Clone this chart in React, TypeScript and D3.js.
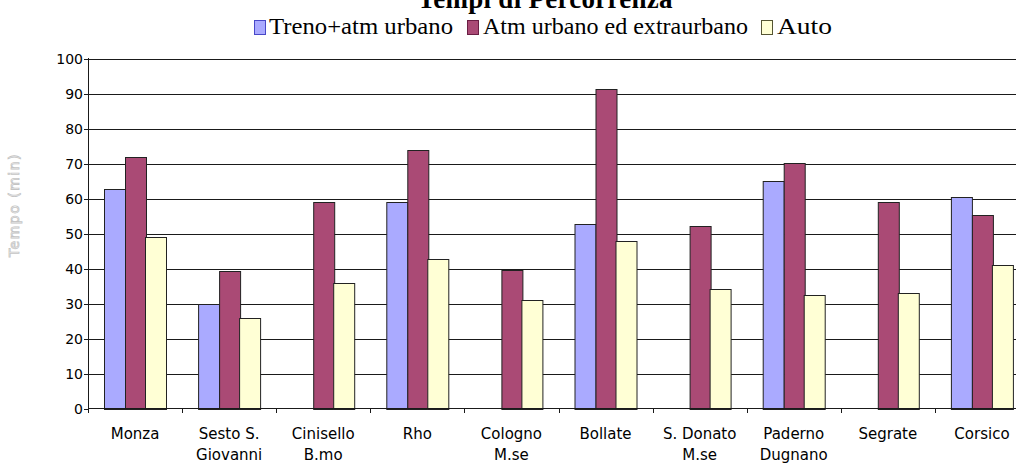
import React from "react";
import * as d3 from "d3";

const categories: string[][] = [
  ["Monza"],
  ["Sesto S.", "Giovanni"],
  ["Cinisello", "B.mo"],
  ["Rho"],
  ["Cologno", "M.se"],
  ["Bollate"],
  ["S. Donato", "M.se"],
  ["Paderno", "Dugnano"],
  ["Segrate"],
  ["Corsico"],
];
const seriesNames = ["Treno+atm urbano", "Atm urbano ed extraurbano", "Auto"];
const trenoAtm: (number | null)[] = [62.7, 29.8, null, 58.9, null, 52.7, null, 65.1, null, 60.3];
const atmExtra: number[] = [71.9, 39.2, 58.9, 73.9, 39.7, 91.2, 52.1, 70.1, 58.9, 55.2];
const auto: number[] = [49.0, 26.0, 36.0, 42.8, 31.0, 47.8, 34.1, 32.3, 32.9, 40.9];
const yTicks = [0, 10, 20, 30, 40, 50, 60, 70, 80, 90, 100];
const colors = ["#AAAAFF", "#AA4A75", "#FFFFD5"];
const strokes = ["#4848c8", "#6a1e44", "#555533"];

const W = 1016;
const H = 465;
const left = 88;
const band = 94.1;

export default function App() {
  const keys = categories.map((c) => c.join(" "));
  const x = d3.scaleBand<string>().domain(keys).range([left, left + band * keys.length]).padding(0);
  const inner = d3.scaleBand<number>().domain([0, 1, 2]).range([16, 78]).padding(0);
  const y = d3.scaleLinear().domain([0, 100]).range([408.5, 58.5]);
  const series = [trenoAtm, atmExtra, auto];

  const legendItems = [
    { mx: 254, tx: 269, tl: 184 },
    { mx: 467, tx: 483, tl: 265 },
    { mx: 761, tx: 777, tl: 55 },
  ];

  return (
    <svg width={W} height={H} style={{ position: "absolute", left: 0, top: 0, background: "#fff" }}>
      <text x={545} y={8} textAnchor="middle" fontFamily="Liberation Serif" fontWeight="bold" fontSize={27} textLength={255}>
        Tempi di Percorrenza
      </text>
      {legendItems.map((l, i) => (
        <g key={i}>
          <rect x={l.mx + 0.5} y={20.5} width={11} height={14} fill={colors[i]} stroke={strokes[i]} strokeWidth={1} />
          <text x={l.tx} y={34} fontFamily="Liberation Serif" fontSize={23} textLength={l.tl} lengthAdjust="spacingAndGlyphs">
            {seriesNames[i]}
          </text>
        </g>
      ))}
      <text
        transform="translate(19,205) rotate(-90)"
        textAnchor="middle"
        fontFamily="DejaVu Sans"
        fontSize={14}
        letterSpacing={1.5}
        fill="none"
        stroke="#c4c4c4"
        strokeWidth={0.8}
      >
        Tempo (min)
      </text>
      {yTicks.map((t) => (
        <g key={t}>
          {t > 0 && <line x1={left} x2={W} y1={Math.round(y(t)) + 0.5} y2={Math.round(y(t)) + 0.5} stroke="#1a1a1a" strokeWidth={1} />}
          <line x1={left - 4} x2={left} y1={Math.round(y(t)) + 0.5} y2={Math.round(y(t)) + 0.5} stroke="#1a1a1a" />
          <text x={left - 5} y={y(t)} dy="0.36em" textAnchor="end" fontFamily="DejaVu Sans" fontSize={14}>
            {t}
          </text>
        </g>
      ))}
      {keys.map((k, ci) => (
        <g key={k} transform={`translate(${x(k)},0)`}>
          {series.map((s, si) => {
            const v = s[ci];
            if (v == null) return null;
            const x0 = Math.round(inner(si)!) + 0.5;
            const w = Math.round(inner.bandwidth());
            return (
              <rect key={si} x={x0} y={Math.round(y(v)) + 0.5} width={w} height={Math.round(y(0)) - Math.round(y(v))} fill={colors[si]} stroke="#222" strokeWidth={1} />
            );
          })}
        </g>
      ))}
      <line x1={left + 0.5} x2={left + 0.5} y1={58} y2={413} stroke="#1a1a1a" />
      <line x1={left} x2={W} y1={408.5} y2={408.5} stroke="#1a1a1a" />
      {keys.map((k, ci) => (
        <line key={"t" + ci} x1={Math.round(x(k)!) + 0.5} x2={Math.round(x(k)!) + 0.5} y1={408} y2={413} stroke="#1a1a1a" />
      ))}
      {categories.map((lines, ci) => (
        <text key={"l" + ci} x={x(keys[ci])! + band / 2} textAnchor="middle" fontFamily="DejaVu Sans" fontSize={15}>
          {lines.map((ln, li) => (
            <tspan key={li} x={x(keys[ci])! + band / 2} y={439 + li * 21}>
              {ln}
            </tspan>
          ))}
        </text>
      ))}
    </svg>
  );
}
